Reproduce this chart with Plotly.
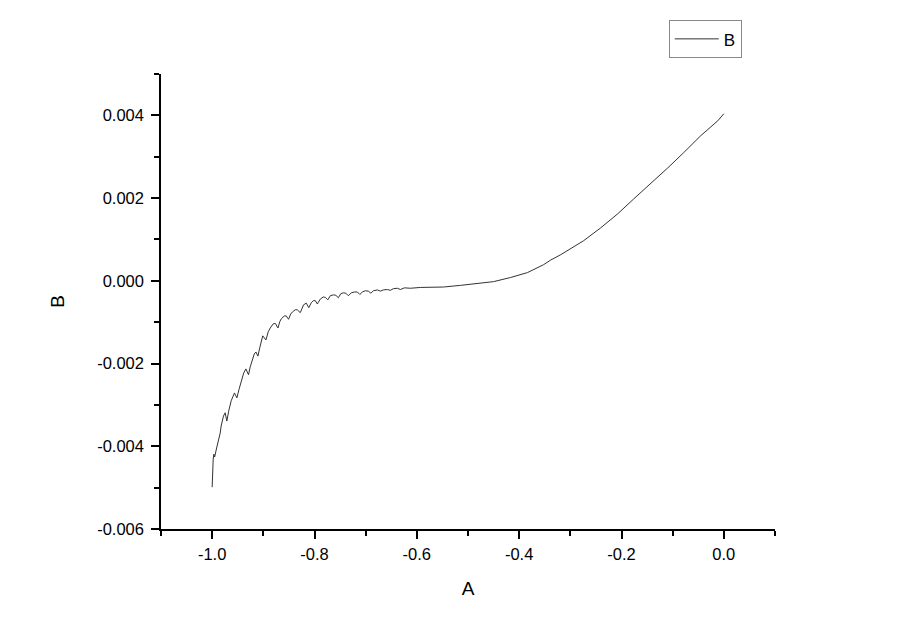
import plotly.graph_objects as go

# Data
A = [-1.000, -0.999, -0.998, -0.9967, -0.9951, -0.9922, -0.9873, -0.9843, -0.9824, -0.9779,
     -0.9746, -0.9713, -0.9677, -0.9628, -0.9564, -0.9517, -0.9472, -0.9432, -0.9384, -0.9341,
     -0.9290, -0.9256, -0.9223, -0.9178, -0.9145, -0.9106, -0.9070, -0.9041, -0.9012, -0.8949,
     -0.8904, -0.8865, -0.8806, -0.8767, -0.8714, -0.8679, -0.8650, -0.8591, -0.8552, -0.8507,
     -0.8464, -0.8429, -0.8376, -0.8337, -0.8278, -0.8213, -0.8160, -0.8112, -0.8063, -0.8023,
     -0.7984, -0.7945, -0.7886, -0.7828, -0.7789, -0.7740, -0.7691, -0.7632, -0.7583, -0.7534,
     -0.7485, -0.7436, -0.7387, -0.7339, -0.7280, -0.7221, -0.7162, -0.7114, -0.7065, -0.7006,
     -0.6947, -0.6898, -0.6849, -0.6771, -0.6712, -0.6654, -0.6575, -0.6517, -0.6458, -0.6380,
     -0.6321, -0.6243, -0.6125, -0.5930, -0.5479, -0.5147, -0.4814, -0.4501, -0.4168, -0.3836,
     -0.3523, -0.3386, -0.3190, -0.3053, -0.2740, -0.2407, -0.2074, -0.1761, -0.1429, -0.1096,
     -0.0783, -0.0450, -0.0117, 0.0000]
B = [-0.00499, -0.00448, -0.00431, -0.00419, -0.00426, -0.00409, -0.00387, -0.00368, -0.00351, -0.00327,
     -0.00319, -0.00339, -0.00315, -0.00290, -0.00271, -0.00283, -0.00261, -0.00242, -0.00223, -0.00213,
     -0.00227, -0.00208, -0.00194, -0.00177, -0.00172, -0.00182, -0.00162, -0.00145, -0.00133, -0.00143,
     -0.00123, -0.00114, -0.00104, -0.00103, -0.00114, -0.00099, -0.00092, -0.00085, -0.00085, -0.00093,
     -0.00080, -0.00075, -0.00070, -0.00070, -0.00077, -0.00058, -0.00054, -0.00065, -0.00053, -0.00048,
     -0.00048, -0.00056, -0.00044, -0.00039, -0.00040, -0.00046, -0.00036, -0.00034, -0.00035, -0.00041,
     -0.00031, -0.00029, -0.00030, -0.00036, -0.00029, -0.00027, -0.00027, -0.00033, -0.00027, -0.00024,
     -0.00025, -0.00030, -0.00024, -0.00022, -0.00025, -0.00022, -0.00021, -0.00023, -0.00019, -0.00018,
     -0.00021, -0.00017, -0.00018, -0.00016, -0.00015, -0.00011, -0.00007, -0.00002, 0.00008, 0.00020,
     0.00039, 0.00050, 0.00063, 0.00073, 0.00097, 0.00128, 0.00162, 0.00198, 0.00235, 0.00273,
     0.00310, 0.00351, 0.00387, 0.00404]

X_TICKS = [-1.0, -0.8, -0.6, -0.4, -0.2, 0.0]
X_TICK_TEXT = ["-1.0", "-0.8", "-0.6", "-0.4", "-0.2", "0.0"]
Y_TICKS = [-0.006, -0.004, -0.002, 0.000, 0.002, 0.004]
Y_TICK_TEXT = ["-0.006", "-0.004", "-0.002", "0.000", "0.002", "0.004"]

FONT = "Liberation Sans, Arial, sans-serif"

fig = go.Figure()
fig.add_trace(go.Scatter(x=A, y=B, mode="lines", name="B",
                         line=dict(color="#333333", width=1)))

axis_common = dict(
    showline=True, linecolor="black", linewidth=1.5,
    ticks="outside", ticklen=8, tickwidth=1.5, tickcolor="black",
    showgrid=False, zeroline=False, mirror=False, automargin=False,
    tickfont=dict(family=FONT, size=16.5, color="black"),
)

# the page body adds an 8px offset, so margins are shifted to compensate
fig.update_layout(
    width=900, height=635,
    margin=dict(l=153, r=133, t=66, b=114),
    paper_bgcolor="white", plot_bgcolor="white",
    font=dict(family=FONT, color="black"),
    xaxis=dict(range=[-1.1, 0.1], tickmode="array", tickvals=X_TICKS, ticktext=X_TICK_TEXT,
               minor=dict(dtick=0.1, tick0=-1.1, ticklen=5, tickwidth=1.5, tickcolor="black", ticks="outside"),
               title=dict(text="A", font=dict(family=FONT, size=19), standoff=20),
               ticklabelstandoff=1,
               **axis_common),
    yaxis=dict(range=[-0.006, 0.005], tickmode="array", tickvals=Y_TICKS, ticktext=Y_TICK_TEXT,
               minor=dict(dtick=0.001, tick0=-0.006, ticklen=5, tickwidth=1.5, tickcolor="black", ticks="outside"),
               title=dict(text="B", font=dict(family=FONT, size=19), standoff=28),
               ticklabelstandoff=4,
               **axis_common),
    showlegend=True,
    legend=dict(x=0.827, y=1.118, xanchor="left", yanchor="top",
                bordercolor="#888888", borderwidth=1, bgcolor="white",
                font=dict(family=FONT, size=17, color="black"),
                itemwidth=44, tracegroupgap=0),
)

fig.write_html("out.html")
